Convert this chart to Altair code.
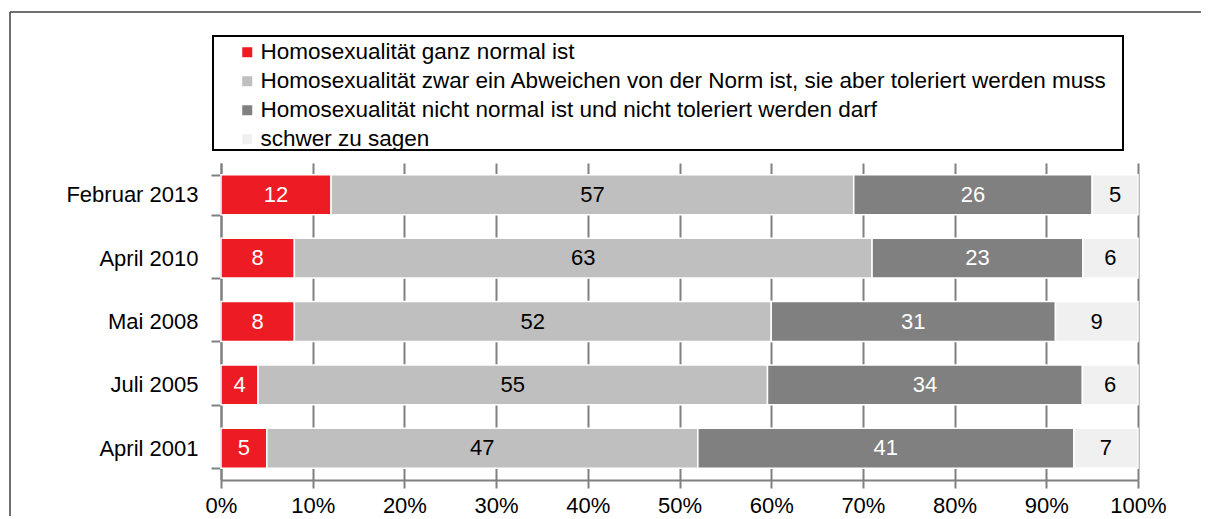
import altair as alt
import pandas as pd

dates = ["Februar 2013", "April 2010", "Mai 2008", "Juli 2005", "April 2001"]
cats = [
    "Homosexualität ganz normal ist",
    "Homosexualität zwar ein Abweichen von der Norm ist, sie aber toleriert werden muss",
    "Homosexualität nicht normal ist und nicht toleriert werden darf",
    "schwer zu sagen",
]
normal = [12, 8, 8, 4, 5]
toleriert = [57, 63, 52, 55, 47]
nicht = [26, 23, 31, 34, 41]
schwer = [5, 6, 9, 6, 7]
colors = ["#ED1C24", "#BFBFBF", "#808080", "#F0F0F0"]
text_colors = ["white", "black", "white", "black"]
x_ticks = [0, 0.1, 0.2, 0.3, 0.4, 0.5, 0.6, 0.7, 0.8, 0.9, 1.0]

FONT = "Liberation Sans"

rows = []
for series_i, series in enumerate([normal, toleriert, nicht, schwer]):
    for d, v in zip(dates, series):
        rows.append({"date": d, "cat": cats[series_i], "idx": series_i,
                     "value": v, "tc": text_colors[series_i]})
df = pd.DataFrame(rows)

y_enc = alt.Y("date:N", sort=dates,
              scale=alt.Scale(paddingInner=0.37, paddingOuter=0.185),
              axis=alt.Axis(title=None, tickBand="extent", tickSize=10,
                            labelPadding=13, grid=False))

bars = alt.Chart(df).mark_bar(stroke="white", strokeWidth=1.5).encode(
    y=y_enc,
    x=alt.X("value:Q", stack="normalize",
            scale=alt.Scale(domain=[0, 1], nice=False),
            axis=alt.Axis(title=None, format=".0%", values=x_ticks, grid=True,
                          tickSize=8, labelPadding=7, labelFlush=False)),
    color=alt.Color("cat:N", sort=cats,
                    scale=alt.Scale(domain=cats, range=colors),
                    legend=alt.Legend(title=None, orient="none", legendX=-8, legendY=-123,
                                      symbolType="square", symbolSize=100,
                                      symbolStrokeWidth=0, symbolOffset=22,
                                      labelOffset=2, rowPadding=6, padding=1,
                                      labelLimit=2000)),
    order=alt.Order("idx:Q"),
)

labels = alt.Chart(df).transform_stack(
    stack="value", groupby=["date"], as_=["x0", "x1"],
    sort=[alt.SortField("idx")], offset="normalize"
).transform_calculate(
    mid="(datum.x0 + datum.x1) / 2"
).mark_text(font=FONT, fontSize=22, baseline="middle", align="center").encode(
    y=alt.Y("date:N", sort=dates),
    x=alt.X("mid:Q"),
    text=alt.Text("value:Q"),
    color=alt.Color("tc:N", scale=None),
)

frame_df = pd.DataFrame({"k": [0]})
frame_v = alt.Chart(frame_df).mark_rule(color="#404040", strokeWidth=1.5).encode(
    x=alt.value(-211), y=alt.value(-151), y2=alt.value(400))
frame_h = alt.Chart(frame_df).mark_rule(color="#404040", strokeWidth=1.5).encode(
    x=alt.value(-211), x2=alt.value(1000), y=alt.value(-151))
legend_box = alt.Chart(frame_df).mark_rect(
    fill="transparent", stroke="black", strokeWidth=2).encode(
    x=alt.value(-8), x2=alt.value(902), y=alt.value(-127), y2=alt.value(-13))

chart = alt.layer(frame_v, frame_h, legend_box, bars, labels).properties(
    width=917, height=317,
    padding={"left": 213, "top": 155, "right": 63, "bottom": 36},
    autosize=alt.AutoSizeParams(type="none"),
).configure_view(stroke=None).configure_axis(
    domainColor="#808080", domainWidth=2, tickColor="#808080", tickWidth=2,
    gridColor="#808080", gridWidth=2, labelFont=FONT, labelFontSize=22,
    labelColor="black",
).configure_legend(
    labelFont=FONT, labelFontSize=22.5, labelColor="black",
)

chart.save("out.html", embed_options={"renderer": "svg", "actions": False})
